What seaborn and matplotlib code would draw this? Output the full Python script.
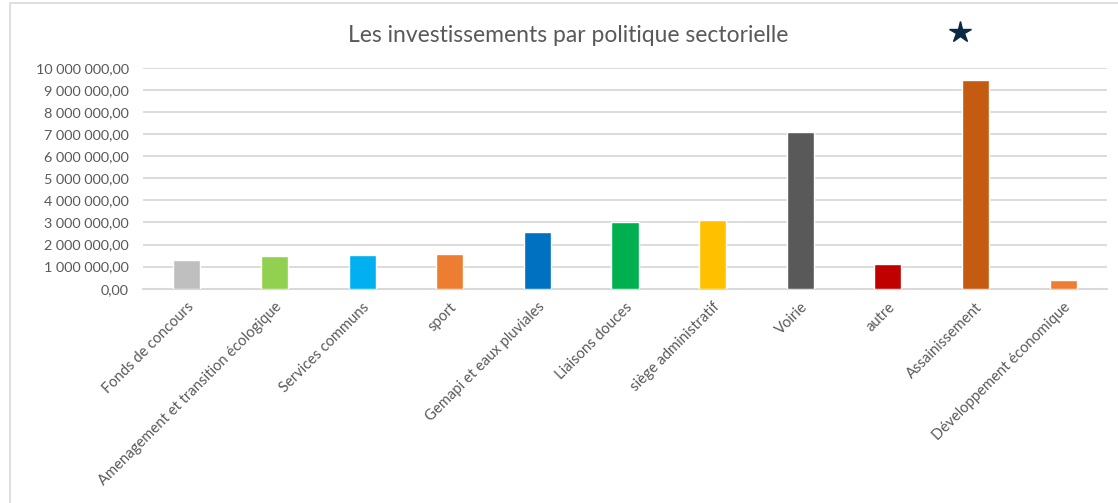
import pandas as pd
import numpy as np
import matplotlib.pyplot as plt
import seaborn as sns
from matplotlib.lines import Line2D
from matplotlib.patches import Rectangle
from matplotlib.ticker import FuncFormatter

# Categories and values (euros)
categories = [
    'Fonds de concours',
    'Amenagement et transition écologique',
    'Services communs',
    'sport',
    'Gemapi et eaux pluviales',
    'Liaisons douces',
    'siège administratif',
    'Voirie',
    'autre',
    'Assainissement',
    'Développement économique',
]
montants = [1300000, 1490000, 1540000, 1580000, 2570000, 3030000,
            3130000, 7080000, 1110000, 9470000, 400000]
couleurs = ['#BFBFBF', '#92D050', '#00B0F0', '#ED7D31', '#0070C0', '#00B050',
            '#FFC000', '#595959', '#C00000', '#C55A11', '#ED7D31']

y_ticks = list(range(0, 10000001, 1000000))

df = pd.DataFrame({'Politique': categories, 'Montant': montants})
palette = dict(zip(categories, couleurs))

sns.set_style('white')
plt.rcParams['font.family'] = ['Lato', 'DejaVu Sans']
text_color = '#595959'
grid_color = '#D9D9D9'

fig = plt.figure(figsize=(11.18, 5.03), dpi=100)
ax = fig.add_axes([143 / 1118, 1 - 288.7 / 503, (1107 - 143) / 1118, (288.7 - 68) / 503])

sns.barplot(data=df, x='Politique', y='Montant', hue='Politique', palette=palette,
            legend=False, width=0.31, saturation=1, ax=ax, zorder=3)

ax.set_ylim(0, 10000000)
ax.set_yticks(y_ticks)


def fmt_fr(v, pos):
    s = f'{v:,.2f}'
    return s.replace(',', ' ').replace('.', ',')


ax.yaxis.set_major_formatter(FuncFormatter(fmt_fr))
ax.grid(axis='y', color=grid_color, linewidth=1.3, zorder=0)
ax.set_axisbelow(True)
for side in ['top', 'right', 'left']:
    ax.spines[side].set_visible(False)
ax.spines['bottom'].set_color(grid_color)
ax.spines['bottom'].set_linewidth(1.5)

ax.set_xlabel('')
ax.set_ylabel('')
ax.tick_params(axis='y', length=0, pad=10, labelsize=10.4, labelcolor=text_color)
ax.tick_params(axis='x', length=0, pad=8, labelsize=10.6, labelcolor=text_color)
plt.setp(ax.get_xticklabels(), rotation=45, ha='right', rotation_mode='anchor')

fig.text(568 / 1118, 1 - 36 / 503, 'Les investissements par politique sectorielle',
         ha='center', va='center', fontsize=16.5, color=text_color)

# star marker at top right
fig.add_artist(Line2D([960 / 1118], [1 - 32 / 503], marker='*', markersize=16,
                      color='#0D2A44', markeredgecolor='#0D2A44',
                      transform=fig.transFigure))

# chart frame
fig.add_artist(Rectangle((10 / 1118, -0.01), 1.2, 1 - 3 / 503 + 0.01, fill=False,
                         edgecolor=grid_color, linewidth=1.2,
                         transform=fig.transFigure))

fig.savefig('out.png', dpi=100)
